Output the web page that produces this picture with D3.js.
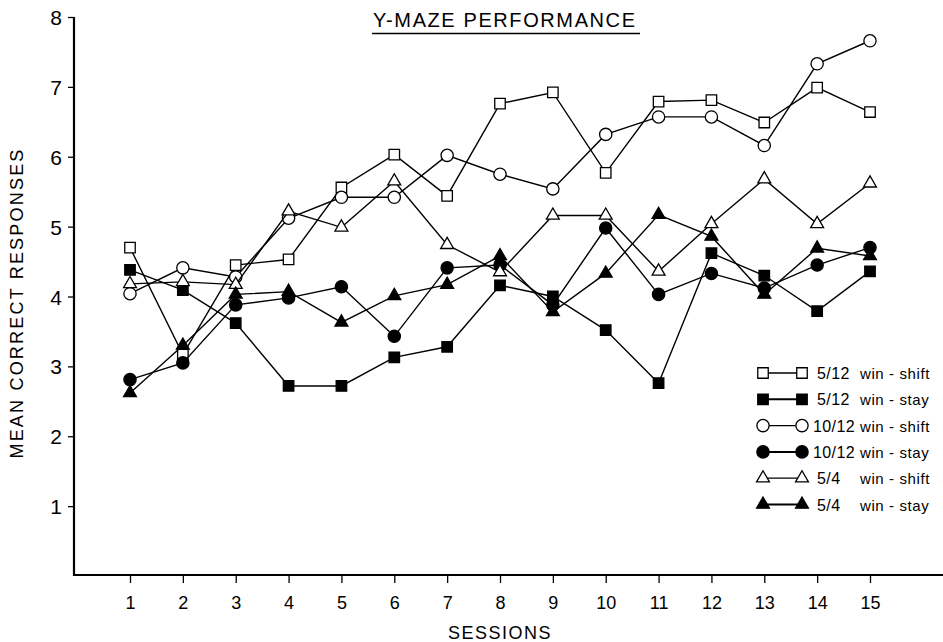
<!DOCTYPE html>
<html>
<head>
<meta charset="utf-8">
<script src="https://cdn.jsdelivr.net/npm/d3@7"></script>
<style>
  body { margin: 0; background: #fff; }
  svg { display: block; font-family: "Liberation Sans", "DejaVu Sans", sans-serif; }
</style>
</head>
<body>
<svg width="943" height="642"></svg>
<script>
var sessions = [1,2,3,4,5,6,7,8,9,10,11,12,13,14,15];
var yTicks = [1,2,3,4,5,6,7,8];

// mean correct responses per session
var shift512 = [4.70, 3.17, 4.45, 4.53, 5.56, 6.03, 5.44, 6.76, 6.92, 5.77, 6.79, 6.81, 6.49, 6.99, 6.64];
var stay512  = [4.38, 4.09, 3.62, 2.72, 2.72, 3.13, 3.28, 4.16, 4.00, 3.52, 2.76, 4.62, 4.30, 3.79, 4.36];
var shift1012 = [4.04, 4.41, 4.28, 5.12, 5.42, 5.42, 6.02, 5.75, 5.54, 6.32, 6.57, 6.57, 6.16, 7.33, 7.66];
var stay1012  = [2.81, 3.05, 3.88, 3.98, 4.14, 3.43, 4.41, 4.45, 3.88, 4.98, 4.03, 4.33, 4.12, 4.45, 4.70];
var shift54 = [4.18, 4.21, 4.17, 5.22, 4.99, 5.65, 4.74, 4.35, 5.16, 5.16, 4.36, 5.04, 5.68, 5.04, 5.62];
var stay54  = [2.62, 3.30, 4.03, 4.07, 3.63, 4.01, 4.17, 4.58, 3.78, 4.33, 5.17, 4.86, 4.03, 4.69, 4.58];

var seriesNames = ['5/12', '5/12', '10/12', '10/12', '5/4', '5/4'];
var seriesKinds = ['win-shift', 'win-stay', 'win-shift', 'win-stay', 'win-shift', 'win-stay'];
var seriesShapes = ['square', 'square', 'circle', 'circle', 'triangle', 'triangle'];
var seriesFilled = [false, true, false, true, false, true];
var seriesValues = [shift512, stay512, shift1012, stay1012, shift54, stay54];

var svg = d3.select('svg');
svg.append('rect').attr('width', 943).attr('height', 642).attr('fill', '#fff');

var x = d3.scaleLinear().domain([1, 15]).range([130, 870]);
var y = d3.scaleLinear().domain([0, 8]).range([576, 17]);
var axisX = 74, axisY = 575;

var symbolTypes = { square: d3.symbolSquare, circle: d3.symbolCircle, triangle: d3.symbolTriangle };
var symbolSizes = { square: 110, circle: 118, triangle: 72 };
function symbolPath(shape){
	return d3.symbol().type(symbolTypes[shape]).size(symbolSizes[shape])();
}

// y axis
var yAxis = svg.append('g')
	.attr('transform', 'translate(' + axisX + ',0)')
	.call(d3.axisLeft(y).tickValues(yTicks).tickSize(6).tickSizeOuter(0).tickPadding(6));
yAxis.select('.domain').remove();
yAxis.selectAll('.tick line').attr('stroke', '#000').attr('stroke-width', 1.3);
yAxis.selectAll('.tick text').attr('font-size', 21).attr('fill', '#000').attr('dy', '0.36em');
svg.append('line')
	.attr('x1', axisX).attr('x2', axisX)
	.attr('y1', y(8)).attr('y2', axisY + 1)
	.attr('stroke', '#000').attr('stroke-width', 2.2);

// x axis
var xAxis = svg.append('g')
	.attr('transform', 'translate(0,' + axisY + ')')
	.call(d3.axisBottom(x).tickValues(sessions).tickSize(8).tickSizeOuter(0).tickPadding(13));
xAxis.select('.domain').remove();
xAxis.selectAll('.tick line').attr('stroke', '#000').attr('stroke-width', 1.3);
xAxis.selectAll('.tick text').attr('font-size', 18).attr('fill', '#000');
svg.append('line')
	.attr('x1', axisX - 1).attr('x2', 943)
	.attr('y1', axisY).attr('y2', axisY)
	.attr('stroke', '#000').attr('stroke-width', 2.2);

// axis titles
svg.append('text')
	.attr('x', 500).attr('y', 639)
	.attr('text-anchor', 'middle')
	.attr('font-size', 18).attr('letter-spacing', 1.5)
	.text('SESSIONS');
svg.append('text')
	.attr('transform', 'translate(23,303) rotate(-90)')
	.attr('text-anchor', 'middle')
	.attr('font-size', 18).attr('letter-spacing', 2.2)
	.text('MEAN CORRECT RESPONSES');

// title
svg.append('text')
	.attr('x', 373).attr('y', 27)
	.attr('font-size', 20)
	.attr('textLength', 262).attr('lengthAdjust', 'spacing')
	.text('Y-MAZE PERFORMANCE');
svg.append('line')
	.attr('x1', 372).attr('x2', 640)
	.attr('y1', 33.5).attr('y2', 33.5)
	.attr('stroke', '#000').attr('stroke-width', 1.6);

// series
var line = d3.line()
	.x(function(d, i){ return x(sessions[i]); })
	.y(function(d){ return y(d); });

seriesValues.forEach(function(vals, s){
	var g = svg.append('g').attr('class', 'series');
	g.append('path')
		.attr('d', line(vals))
		.attr('fill', 'none')
		.attr('stroke', '#000')
		.attr('stroke-width', 1.4);
	g.selectAll('.pt')
		.data(vals)
		.enter()
		.append('path')
			.attr('class', 'pt')
			.attr('d', symbolPath(seriesShapes[s]))
			.attr('transform', function(d, i){ return 'translate(' + x(sessions[i]) + ',' + y(d) + ')'; })
			.attr('fill', seriesFilled[s] ? '#000' : '#fff')
			.attr('stroke', '#000')
			.attr('stroke-width', 1.3);
});

// legend
var legend = svg.append('g').attr('transform', 'translate(0,373)');
seriesNames.forEach(function(name, s){
	var row = legend.append('g').attr('transform', 'translate(0,' + (s * 26.3) + ')');
	row.append('line')
		.attr('x1', 763).attr('x2', 802).attr('y1', 0).attr('y2', 0)
		.attr('stroke', '#000').attr('stroke-width', seriesFilled[s] ? 2 : 1.3);
	[763, 802].forEach(function(px){
		row.append('path')
			.attr('d', symbolPath(seriesShapes[s]))
			.attr('transform', 'translate(' + px + ',0)')
			.attr('fill', seriesFilled[s] ? '#000' : '#fff')
			.attr('stroke', '#000')
			.attr('stroke-width', 1.3);
	});
	row.append('text')
		.attr('x', name.length > 4 ? 813 : 817).attr('y', 6)
		.attr('font-size', 16).attr('letter-spacing', 0.4)
		.text(name);
	row.append('text')
		.attr('x', 860).attr('y', 6)
		.attr('font-size', 15).attr('letter-spacing', 0.6)
		.text(seriesKinds[s].replace('-', ' - '));
});
</script>
</body>
</html>
